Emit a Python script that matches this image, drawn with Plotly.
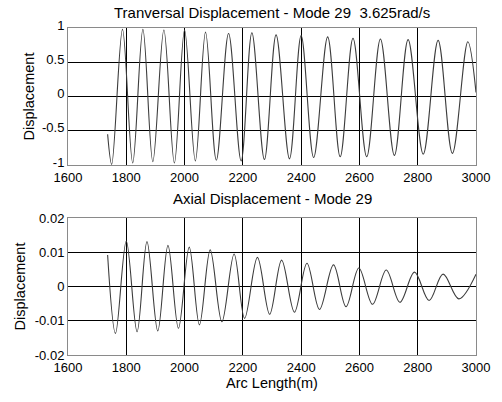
import plotly.graph_objects as go

# Transversal displacement: start point, alternating extrema, end point
trans_x = [1736, 1750, 1787, 1822, 1857, 1891, 1929, 1965, 2000, 2037, 2072, 2109,
           2151, 2194, 2231, 2274, 2314, 2360, 2400, 2443, 2491, 2534, 2578, 2625,
           2672, 2720, 2767, 2819, 2870, 2919, 2972, 3000]
trans_y = [-0.55, -0.99, 0.98, -0.97, 0.98, -0.95, 0.97, -0.97, 0.97, -0.94, 0.94, -0.93,
           0.92, -0.94, 0.93, -0.92, 0.90, -0.91, 0.89, -0.89, 0.87, -0.88, 0.85, -0.88,
           0.84, -0.86, 0.83, -0.84, 0.82, -0.83, 0.80, 0.06]

# Axial displacement
axial_x = [1736, 1763, 1800, 1837, 1871, 1908, 1943, 1979, 2016, 2051, 2088, 2128,
           2170, 2206, 2250, 2292, 2333, 2377, 2420, 2463, 2511, 2554, 2598, 2645,
           2692, 2739, 2789, 2839, 2887, 2941, 3000]
axial_y = [0.0092, -0.0137, 0.0133, -0.0132, 0.0131, -0.0130, 0.0120, -0.0122, 0.0115, -0.0112,
           0.0107, -0.0103, 0.0095, -0.0093, 0.0085, -0.0081, 0.0077, -0.0075, 0.0068, -0.0067,
           0.0063, -0.0059, 0.0054, -0.0052, 0.0048, -0.0046, 0.0042, -0.0041, 0.0036, -0.0036,
           0.0036]

x_ticks = [1600, 1800, 2000, 2200, 2400, 2600, 2800, 3000]
x_ticktext = ["1600", "1800", "2000", "2200", "2400", "2600", "2800", "3000"]
trans_ticks = [-1, -0.5, 0, 0.5, 1]
trans_ticktext = ["-1", "-0.5", "0", "0.5", "1"]
axial_ticks = [-0.02, -0.01, 0, 0.01, 0.02]
axial_ticktext = ["-0.02", "-0.01", "0", "0.01", "0.02"]

title_top = "Tranversal Displacement - Mode 29  3.625rad/s"
title_bottom = "Axial Displacement - Mode 29"

FONT = "Liberation Sans, Arial, sans-serif"
LINE = "#3c3c3c"

fig = go.Figure()
fig.add_trace(go.Scatter(x=trans_x, y=trans_y, mode="lines", line=dict(color=LINE, width=1.1, shape="spline"),
                         xaxis="x", yaxis="y", showlegend=False))
fig.add_trace(go.Scatter(x=axial_x, y=axial_y, mode="lines", line=dict(color=LINE, width=1.1, shape="spline"),
                         xaxis="x2", yaxis="y2", showlegend=False))

axis_common = dict(showgrid=True, gridcolor="black", gridwidth=1, zeroline=False,
                   showline=True, linecolor="#8a8a8a", linewidth=1, mirror=True,
                   ticks="", tickfont=dict(family=FONT, size=13, color="black"))

fig.update_layout(
    width=502, height=402,
    margin=dict(l=68, r=20, t=28, b=47),
    paper_bgcolor="white", plot_bgcolor="white",
    font=dict(family=FONT, color="black"),
    xaxis=dict(domain=[0, 1], anchor="y", range=[1600, 3000], tickvals=x_ticks, ticktext=x_ticktext, **axis_common),
    yaxis=dict(domain=[0.581, 1], anchor="x", range=[-1, 1], tickvals=trans_ticks, ticktext=trans_ticktext,
               ticklabelshift=-3,
               title=dict(text="Displacement", font=dict(family=FONT, size=14.5), standoff=3), **axis_common),
    xaxis2=dict(domain=[0, 1], anchor="y2", range=[1600, 3000], tickvals=x_ticks, ticktext=x_ticktext,
                title=dict(text="Arc Length(m)", font=dict(family=FONT, size=14.5), standoff=3), **axis_common),
    yaxis2=dict(domain=[0, 0.419], anchor="x2", range=[-0.02, 0.02], tickvals=axial_ticks, ticktext=axial_ticktext,
                title=dict(text="Displacement", font=dict(family=FONT, size=14.5), standoff=5), **axis_common),
    annotations=[
        dict(text=title_top, x=0.5, y=1.046, xref="paper", yref="paper", showarrow=False,
             xanchor="center", yanchor="middle", font=dict(family=FONT, size=15, color="black")),
        dict(text=title_bottom, x=0.5, y=0.480, xref="paper", yref="paper", showarrow=False,
             xanchor="center", yanchor="middle", font=dict(family=FONT, size=15, color="black")),
    ],
)

fig.write_html("out.html")
